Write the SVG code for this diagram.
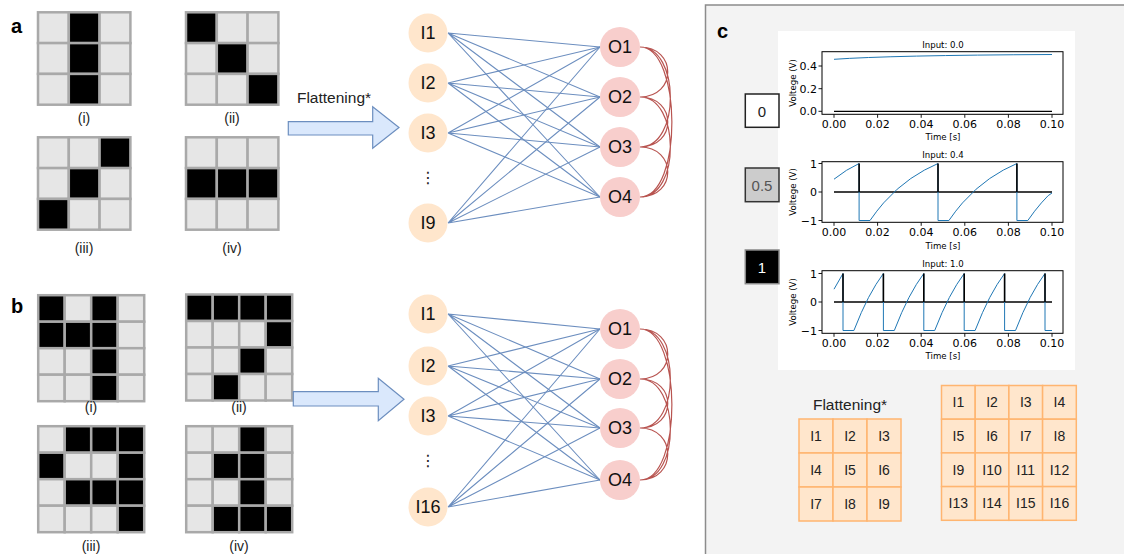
<svg xmlns="http://www.w3.org/2000/svg" width="1124" height="554" viewBox="0 0 1124 554">
<defs>
<style>
.lbl{font-family:"Liberation Sans",Arial,sans-serif;font-weight:bold;font-size:20px;fill:#000}
.cap{font-family:"Liberation Sans",Arial,sans-serif;font-size:14px;fill:#222;text-anchor:middle}
.c{fill:#e6e6e6;stroke:#a9a9a9;stroke-width:2.5}
.k{fill:#000;stroke:#a9a9a9;stroke-width:2.5}
.arrow{fill:#dae8fc;stroke:#6c8ebf;stroke-width:1.2}
.ftxt{font-family:"Liberation Sans",Arial,sans-serif;font-size:15.5px;fill:#222;text-anchor:middle}
.in{fill:#ffe6cc}
.out{fill:#f8cecc}
.nt{font-family:"Liberation Sans",Arial,sans-serif;font-size:18px;fill:#111;text-anchor:middle;dominant-baseline:central}
.edge{stroke:#6c8ebf;stroke-width:1.1;fill:none}
.inh{stroke:#b85450;stroke-width:1.2;fill:none}
.ax{fill:none;stroke:#000;stroke-width:1}
.tk{stroke:#000;stroke-width:0.9}
.tl{font-family:"DejaVu Sans",sans-serif;font-size:11px;fill:#000}
.sm{font-family:"DejaVu Sans",sans-serif;font-size:8.6px;fill:#000;text-anchor:middle}
.blue{fill:none;stroke:#1f77b4;stroke-width:1}
.zero{stroke:#000;stroke-width:1.3}
.spk{stroke:#000;stroke-width:1.6}
.oc{fill:#ffe6cc;stroke:#ffb570;stroke-width:1.5}
.ot{font-family:"Liberation Sans",Arial,sans-serif;font-size:14px;fill:#222;text-anchor:middle;dominant-baseline:central}
</style>
</defs>
<rect width="1124" height="554" fill="#fff"/>

<!-- Panel c background -->
<rect x="705.5" y="5" width="420" height="551" fill="#f3f3f3" stroke="#8c8c8c" stroke-width="1.5"/>

<!-- Panel labels -->
<text class="lbl" x="11" y="33">a</text>
<text class="lbl" x="11" y="313">b</text>
<text class="lbl" x="717" y="38">c</text>

<!-- Panel a grids -->
<g id="a-i" transform="translate(38,12.3)">
<rect class="c" x="0" y="0" width="30.8" height="30.8"/><rect class="k" x="30.8" y="0" width="30.8" height="30.8"/><rect class="c" x="61.6" y="0" width="30.8" height="30.8"/>
<rect class="c" x="0" y="30.8" width="30.8" height="30.8"/><rect class="k" x="30.8" y="30.8" width="30.8" height="30.8"/><rect class="c" x="61.6" y="30.8" width="30.8" height="30.8"/>
<rect class="c" x="0" y="61.6" width="30.8" height="30.8"/><rect class="k" x="30.8" y="61.6" width="30.8" height="30.8"/><rect class="c" x="61.6" y="61.6" width="30.8" height="30.8"/>
</g>
<g id="a-ii" transform="translate(186,12.3)">
<rect class="k" x="0" y="0" width="30.8" height="30.8"/><rect class="c" x="30.8" y="0" width="30.8" height="30.8"/><rect class="c" x="61.6" y="0" width="30.8" height="30.8"/>
<rect class="c" x="0" y="30.8" width="30.8" height="30.8"/><rect class="k" x="30.8" y="30.8" width="30.8" height="30.8"/><rect class="c" x="61.6" y="30.8" width="30.8" height="30.8"/>
<rect class="c" x="0" y="61.6" width="30.8" height="30.8"/><rect class="c" x="30.8" y="61.6" width="30.8" height="30.8"/><rect class="k" x="61.6" y="61.6" width="30.8" height="30.8"/>
</g>
<g id="a-iii" transform="translate(38,137.3)">
<rect class="c" x="0" y="0" width="30.8" height="30.8"/><rect class="c" x="30.8" y="0" width="30.8" height="30.8"/><rect class="k" x="61.6" y="0" width="30.8" height="30.8"/>
<rect class="c" x="0" y="30.8" width="30.8" height="30.8"/><rect class="k" x="30.8" y="30.8" width="30.8" height="30.8"/><rect class="c" x="61.6" y="30.8" width="30.8" height="30.8"/>
<rect class="k" x="0" y="61.6" width="30.8" height="30.8"/><rect class="c" x="30.8" y="61.6" width="30.8" height="30.8"/><rect class="c" x="61.6" y="61.6" width="30.8" height="30.8"/>
</g>
<g id="a-iv" transform="translate(186,137.3)">
<rect class="c" x="0" y="0" width="30.8" height="30.8"/><rect class="c" x="30.8" y="0" width="30.8" height="30.8"/><rect class="c" x="61.6" y="0" width="30.8" height="30.8"/>
<rect class="k" x="0" y="30.8" width="30.8" height="30.8"/><rect class="k" x="30.8" y="30.8" width="30.8" height="30.8"/><rect class="k" x="61.6" y="30.8" width="30.8" height="30.8"/>
<rect class="c" x="0" y="61.6" width="30.8" height="30.8"/><rect class="c" x="30.8" y="61.6" width="30.8" height="30.8"/><rect class="c" x="61.6" y="61.6" width="30.8" height="30.8"/>
</g>
<text class="cap" x="84" y="123">(i)</text>
<text class="cap" x="232" y="123">(ii)</text>
<text class="cap" x="84" y="253">(iii)</text>
<text class="cap" x="232" y="253">(iv)</text>

<!-- Panel b grids -->
<g id="b-i" transform="translate(38.2,295.2)">
<rect class="k" x="0" y="0" width="26.5" height="26.5"/><rect class="c" x="26.5" y="0" width="26.5" height="26.5"/><rect class="k" x="53" y="0" width="26.5" height="26.5"/><rect class="c" x="79.5" y="0" width="26.5" height="26.5"/>
<rect class="k" x="0" y="26.5" width="26.5" height="26.5"/><rect class="k" x="26.5" y="26.5" width="26.5" height="26.5"/><rect class="k" x="53" y="26.5" width="26.5" height="26.5"/><rect class="c" x="79.5" y="26.5" width="26.5" height="26.5"/>
<rect class="c" x="0" y="53" width="26.5" height="26.5"/><rect class="c" x="26.5" y="53" width="26.5" height="26.5"/><rect class="k" x="53" y="53" width="26.5" height="26.5"/><rect class="c" x="79.5" y="53" width="26.5" height="26.5"/>
<rect class="c" x="0" y="79.5" width="26.5" height="26.5"/><rect class="c" x="26.5" y="79.5" width="26.5" height="26.5"/><rect class="k" x="53" y="79.5" width="26.5" height="26.5"/><rect class="c" x="79.5" y="79.5" width="26.5" height="26.5"/>
</g>
<g id="b-ii" transform="translate(186.2,294.5)">
<rect class="k" x="0" y="0" width="26.5" height="26.5"/><rect class="k" x="26.5" y="0" width="26.5" height="26.5"/><rect class="k" x="53" y="0" width="26.5" height="26.5"/><rect class="k" x="79.5" y="0" width="26.5" height="26.5"/>
<rect class="c" x="0" y="26.5" width="26.5" height="26.5"/><rect class="c" x="26.5" y="26.5" width="26.5" height="26.5"/><rect class="c" x="53" y="26.5" width="26.5" height="26.5"/><rect class="k" x="79.5" y="26.5" width="26.5" height="26.5"/>
<rect class="c" x="0" y="53" width="26.5" height="26.5"/><rect class="c" x="26.5" y="53" width="26.5" height="26.5"/><rect class="k" x="53" y="53" width="26.5" height="26.5"/><rect class="c" x="79.5" y="53" width="26.5" height="26.5"/>
<rect class="c" x="0" y="79.5" width="26.5" height="26.5"/><rect class="k" x="26.5" y="79.5" width="26.5" height="26.5"/><rect class="c" x="53" y="79.5" width="26.5" height="26.5"/><rect class="c" x="79.5" y="79.5" width="26.5" height="26.5"/>
</g>
<g id="b-iii" transform="translate(38.2,426.2)">
<rect class="c" x="0" y="0" width="26.5" height="26.5"/><rect class="k" x="26.5" y="0" width="26.5" height="26.5"/><rect class="k" x="53" y="0" width="26.5" height="26.5"/><rect class="k" x="79.5" y="0" width="26.5" height="26.5"/>
<rect class="k" x="0" y="26.5" width="26.5" height="26.5"/><rect class="c" x="26.5" y="26.5" width="26.5" height="26.5"/><rect class="c" x="53" y="26.5" width="26.5" height="26.5"/><rect class="k" x="79.5" y="26.5" width="26.5" height="26.5"/>
<rect class="c" x="0" y="53" width="26.5" height="26.5"/><rect class="k" x="26.5" y="53" width="26.5" height="26.5"/><rect class="k" x="53" y="53" width="26.5" height="26.5"/><rect class="k" x="79.5" y="53" width="26.5" height="26.5"/>
<rect class="c" x="0" y="79.5" width="26.5" height="26.5"/><rect class="c" x="26.5" y="79.5" width="26.5" height="26.5"/><rect class="c" x="53" y="79.5" width="26.5" height="26.5"/><rect class="k" x="79.5" y="79.5" width="26.5" height="26.5"/>
</g>
<g id="b-iv" transform="translate(186.2,426.2)">
<rect class="c" x="0" y="0" width="26.5" height="26.5"/><rect class="c" x="26.5" y="0" width="26.5" height="26.5"/><rect class="k" x="53" y="0" width="26.5" height="26.5"/><rect class="c" x="79.5" y="0" width="26.5" height="26.5"/>
<rect class="c" x="0" y="26.5" width="26.5" height="26.5"/><rect class="k" x="26.5" y="26.5" width="26.5" height="26.5"/><rect class="k" x="53" y="26.5" width="26.5" height="26.5"/><rect class="c" x="79.5" y="26.5" width="26.5" height="26.5"/>
<rect class="c" x="0" y="53" width="26.5" height="26.5"/><rect class="c" x="26.5" y="53" width="26.5" height="26.5"/><rect class="k" x="53" y="53" width="26.5" height="26.5"/><rect class="c" x="79.5" y="53" width="26.5" height="26.5"/>
<rect class="c" x="0" y="79.5" width="26.5" height="26.5"/><rect class="k" x="26.5" y="79.5" width="26.5" height="26.5"/><rect class="k" x="53" y="79.5" width="26.5" height="26.5"/><rect class="k" x="79.5" y="79.5" width="26.5" height="26.5"/>
</g>
<text class="cap" x="91" y="412">(i)</text>
<text class="cap" x="239" y="412">(ii)</text>
<text class="cap" x="91" y="551">(iii)</text>
<text class="cap" x="239" y="551">(iv)</text>

<!-- Arrows -->
<g id="arrow-a">
<text class="ftxt" x="334" y="103">Flattening*</text>
<polygon class="arrow" points="288.3,121.7 372.7,121.7 372.7,106.7 399,127.5 372.7,148.3 372.7,135 288.3,135"/>
</g>
<g id="arrow-b">
<polygon class="arrow" points="293.3,391.7 378.3,391.7 378.3,378.3 404,399.3 378.3,420.7 378.3,406 293.3,406"/>
</g>

<!-- Connectors -->
<g id="connectors">
<g id="edges-a">
<path class="edge" d="M448,33L600,47M448,33L600,97M448,33L600,147M448,33L600,197"/>
<path class="edge" d="M448,83L600,47M448,83L600,97M448,83L600,147M448,83L600,197"/>
<path class="edge" d="M448,133L600,47M448,133L600,97M448,133L600,147M448,133L600,197"/>
<path class="edge" d="M448,223L600,47M448,223L600,97M448,223L600,147M448,223L600,197"/>
<path class="inh" d="M640,47C677,47 677,97 640,97M640,47C680,47 681,147 640,147M640,47C682,47 683,197 640,197M640,97C677,97 677,147 640,147M640,97C680,97 681,197 640,197M640,147C677,147 677,197 640,197"/>
</g>
<g id="edges-b">
<path class="edge" d="M448,314L600,329M448,314L600,379M448,314L600,428M448,314L600,480"/>
<path class="edge" d="M448,366L600,329M448,366L600,379M448,366L600,428M448,366L600,480"/>
<path class="edge" d="M448,416L600,329M448,416L600,379M448,416L600,428M448,416L600,480"/>
<path class="edge" d="M448,507L600,329M448,507L600,379M448,507L600,428M448,507L600,480"/>
<path class="inh" d="M640,329C677,329 677,379 640,379M640,329C680,329 681,428 640,428M640,329C682,329 683,480 640,480M640,379C677,379 677,428 640,428M640,379C680,379 681,480 640,480M640,428C677,428 677,480 640,480"/>
</g>
</g>

<!-- Network a nodes -->
<g id="a-I1"><circle class="in" cx="428" cy="33" r="19.5"/><text class="nt" x="428" y="33">I1</text></g>
<g id="a-I2"><circle class="in" cx="428" cy="83" r="19.5"/><text class="nt" x="428" y="83">I2</text></g>
<g id="a-I3"><circle class="in" cx="428" cy="133" r="19.5"/><text class="nt" x="428" y="133">I3</text></g>
<text x="428" y="183" font-family="DejaVu Sans,sans-serif" font-size="16" fill="#222" text-anchor="middle">⋮</text>
<g id="a-I9"><circle class="in" cx="428" cy="223" r="19.5"/><text class="nt" x="428" y="223">I9</text></g>
<g id="a-O1"><circle class="out" cx="620" cy="47" r="20"/><text class="nt" x="620" y="47">O1</text></g>
<g id="a-O2"><circle class="out" cx="620" cy="97" r="20"/><text class="nt" x="620" y="97">O2</text></g>
<g id="a-O3"><circle class="out" cx="620" cy="147" r="20"/><text class="nt" x="620" y="147">O3</text></g>
<g id="a-O4"><circle class="out" cx="620" cy="197" r="20"/><text class="nt" x="620" y="197">O4</text></g>

<!-- Network b nodes -->
<g id="b-I1"><circle class="in" cx="428" cy="314" r="19.5"/><text class="nt" x="428" y="314">I1</text></g>
<g id="b-I2"><circle class="in" cx="428" cy="366" r="19.5"/><text class="nt" x="428" y="366">I2</text></g>
<g id="b-I3"><circle class="in" cx="428" cy="416" r="19.5"/><text class="nt" x="428" y="416">I3</text></g>
<text x="428" y="466" font-family="DejaVu Sans,sans-serif" font-size="16" fill="#222" text-anchor="middle">⋮</text>
<g id="b-I16"><circle class="in" cx="428" cy="507" r="19.5"/><text class="nt" x="428" y="507">I16</text></g>
<g id="b-O1"><circle class="out" cx="620" cy="329" r="20"/><text class="nt" x="620" y="329">O1</text></g>
<g id="b-O2"><circle class="out" cx="620" cy="379" r="20"/><text class="nt" x="620" y="379">O2</text></g>
<g id="b-O3"><circle class="out" cx="620" cy="428" r="20"/><text class="nt" x="620" y="428">O3</text></g>
<g id="b-O4"><circle class="out" cx="620" cy="480" r="20"/><text class="nt" x="620" y="480">O4</text></g>

<!-- Panel c plots -->
<rect x="778" y="31" width="297" height="339" fill="#fff"/>

<!-- Input boxes -->
<g id="in-0"><rect x="745.3" y="94" width="33.7" height="33.3" fill="#fff" stroke="#222" stroke-width="1.5"/><text x="762" y="111" font-family="Liberation Sans,Arial,sans-serif" font-size="15" fill="#222" text-anchor="middle" dominant-baseline="central">0</text></g>
<g id="in-05"><rect x="745.3" y="168" width="33.7" height="33.7" fill="#cccccc" stroke="#333" stroke-width="1.5"/><text x="762" y="185" font-family="Liberation Sans,Arial,sans-serif" font-size="15" fill="#555" text-anchor="middle" dominant-baseline="central">0.5</text></g>
<g id="in-1"><rect x="745.3" y="250" width="33.7" height="33.7" fill="#000" stroke="#888" stroke-width="1.5"/><text x="762" y="267" font-family="Liberation Sans,Arial,sans-serif" font-size="15" fill="#fff" text-anchor="middle" dominant-baseline="central">1</text></g>

<!-- Plot 1 -->
<g id="plot1">
<text class="sm" x="943" y="48">Input: 0.0</text>
<line class="zero" x1="834" y1="111.3" x2="1052" y2="111.3"/>
<path class="blue" d="M834,59.3 Q890,55.3 1052,54.5"/>
<rect class="ax" x="822" y="51.7" width="241" height="62.6"/>
<path class="tk" d="M818.5,66H822M818.5,88.7H822M818.5,111.3H822M834,114.3V117.8M877.6,114.3V117.8M921.2,114.3V117.8M964.8,114.3V117.8M1008.4,114.3V117.8M1052,114.3V117.8"/>
<text class="tl" text-anchor="end" x="817" y="70">0.4</text>
<text class="tl" text-anchor="end" x="817" y="92.7">0.2</text>
<text class="tl" text-anchor="end" x="817" y="115.3">0.0</text>
<g class="tl" text-anchor="middle"><text x="834" y="127.5">0.00</text><text x="877.6" y="127.5">0.02</text><text x="921.2" y="127.5">0.04</text><text x="964.8" y="127.5">0.06</text><text x="1008.4" y="127.5">0.08</text><text x="1052" y="127.5">0.10</text></g>
<text class="sm" x="943" y="139.5" font-size="9">Time [s]</text>
<text class="sm" font-size="9" transform="translate(796,83) rotate(-90)">Voltege (V)</text>
</g>

<!-- Plot 2 -->
<g id="plot2">
<text class="sm" x="943" y="158">Input: 0.4</text>
<line class="zero" x1="834" y1="192" x2="1052" y2="192"/>
<path class="blue" d="M834,179.2 L846.5,170.3 L859.1,163.5 L859.1,220.5 L870,220.5 L876.8,211.2 L883.6,202.9 L897.2,189.2 L910.8,178.5 L924.4,170.1 L938,163.5 L938,220.5 L948.9,220.5 L955.7,211.2 L962.5,202.9 L976.1,189.2 L989.7,178.5 L1003.3,170.1 L1016.9,163.5 L1016.9,220.5 L1027.8,220.5 L1034.6,211.2 L1041.4,202.9 L1048.2,195.6 L1052,193"/>
<path class="spk" d="M859.1,192V163.5M938,192V163.5M1016.9,192V163.5"/>
<rect class="ax" x="822" y="161.7" width="241" height="60.6"/>
<path class="tk" d="M818.5,163.5H822M818.5,192H822M818.5,220.5H822M834,222.3V225.8M877.6,222.3V225.8M921.2,222.3V225.8M964.8,222.3V225.8M1008.4,222.3V225.8M1052,222.3V225.8"/>
<text class="tl" text-anchor="end" x="817" y="167.5">1</text>
<text class="tl" text-anchor="end" x="817" y="196">0</text>
<text class="tl" text-anchor="end" x="817" y="224.5">−1</text>
<g class="tl" text-anchor="middle"><text x="834" y="236">0.00</text><text x="877.6" y="236">0.02</text><text x="921.2" y="236">0.04</text><text x="964.8" y="236">0.06</text><text x="1008.4" y="236">0.08</text><text x="1052" y="236">0.10</text></g>
<text class="sm" x="943" y="248.5" font-size="9">Time [s]</text>
<text class="sm" font-size="9" transform="translate(796,192) rotate(-90)">Voltege (V)</text>
</g>

<!-- Plot 3 -->
<g id="plot3">
<text class="sm" x="943" y="267">Input: 1.0</text>
<line class="zero" x1="834" y1="302" x2="1052" y2="302"/>
<path class="blue" d="M834,289.2 L843,273.5 L843,330.5 L853.9,330.5 L861.3,312.6 L868.6,297.4 L876,284.4 L883.4,273.5 L883.4,330.5 L894.3,330.5 L901.7,312.6 L909,297.4 L916.4,284.4 L923.8,273.5 L923.8,330.5 L934.7,330.5 L942.1,312.6 L949.4,297.4 L956.8,284.4 L964.2,273.5 L964.2,330.5 L975.1,330.5 L982.5,312.6 L989.8,297.4 L997.2,284.4 L1004.6,273.5 L1004.6,330.5 L1015.5,330.5 L1022.9,312.6 L1030.2,297.4 L1037.6,284.4 L1045,273.5 L1045,330.5 L1052,330.5"/>
<path class="spk" d="M843,302V273.5M883.4,302V273.5M923.8,302V273.5M964.2,302V273.5M1004.6,302V273.5M1045,302V273.5"/>
<rect class="ax" x="822" y="270.7" width="241" height="62.6"/>
<path class="tk" d="M818.5,273.5H822M818.5,302H822M818.5,330.5H822M834,333.3V336.8M877.6,333.3V336.8M921.2,333.3V336.8M964.8,333.3V336.8M1008.4,333.3V336.8M1052,333.3V336.8"/>
<text class="tl" text-anchor="end" x="817" y="277.5">1</text>
<text class="tl" text-anchor="end" x="817" y="306">0</text>
<text class="tl" text-anchor="end" x="817" y="334.5">−1</text>
<g class="tl" text-anchor="middle"><text x="834" y="346.5">0.00</text><text x="877.6" y="346.5">0.02</text><text x="921.2" y="346.5">0.04</text><text x="964.8" y="346.5">0.06</text><text x="1008.4" y="346.5">0.08</text><text x="1052" y="346.5">0.10</text></g>
<text class="sm" x="943" y="358.5" font-size="9">Time [s]</text>
<text class="sm" font-size="9" transform="translate(796,302) rotate(-90)">Voltege (V)</text>
</g>

<!-- Panel c flattening grids -->
<text class="ftxt" x="850" y="410">Flattening*</text>
<g id="c-grid3" transform="translate(799,419)">
<rect class="oc" x="0" y="0" width="34" height="34"/><rect class="oc" x="34" y="0" width="34" height="34"/><rect class="oc" x="68" y="0" width="34" height="34"/>
<rect class="oc" x="0" y="34" width="34" height="34"/><rect class="oc" x="34" y="34" width="34" height="34"/><rect class="oc" x="68" y="34" width="34" height="34"/>
<rect class="oc" x="0" y="68" width="34" height="34"/><rect class="oc" x="34" y="68" width="34" height="34"/><rect class="oc" x="68" y="68" width="34" height="34"/>
<text class="ot" x="17" y="17">I1</text><text class="ot" x="51" y="17">I2</text><text class="ot" x="85" y="17">I3</text>
<text class="ot" x="17" y="51">I4</text><text class="ot" x="51" y="51">I5</text><text class="ot" x="85" y="51">I6</text>
<text class="ot" x="17" y="85">I7</text><text class="ot" x="51" y="85">I8</text><text class="ot" x="85" y="85">I9</text>
</g>
<g id="c-grid4" transform="translate(941.5,385.5)">
<rect class="oc" x="0" y="0" width="33.7" height="33.7"/><rect class="oc" x="33.7" y="0" width="33.7" height="33.7"/><rect class="oc" x="67.4" y="0" width="33.7" height="33.7"/><rect class="oc" x="101.1" y="0" width="33.7" height="33.7"/>
<rect class="oc" x="0" y="33.7" width="33.7" height="33.7"/><rect class="oc" x="33.7" y="33.7" width="33.7" height="33.7"/><rect class="oc" x="67.4" y="33.7" width="33.7" height="33.7"/><rect class="oc" x="101.1" y="33.7" width="33.7" height="33.7"/>
<rect class="oc" x="0" y="67.4" width="33.7" height="33.7"/><rect class="oc" x="33.7" y="67.4" width="33.7" height="33.7"/><rect class="oc" x="67.4" y="67.4" width="33.7" height="33.7"/><rect class="oc" x="101.1" y="67.4" width="33.7" height="33.7"/>
<rect class="oc" x="0" y="101.1" width="33.7" height="33.7"/><rect class="oc" x="33.7" y="101.1" width="33.7" height="33.7"/><rect class="oc" x="67.4" y="101.1" width="33.7" height="33.7"/><rect class="oc" x="101.1" y="101.1" width="33.7" height="33.7"/>
<text class="ot" x="16.85" y="16.85">I1</text><text class="ot" x="50.55" y="16.85">I2</text><text class="ot" x="84.25" y="16.85">I3</text><text class="ot" x="117.95" y="16.85">I4</text>
<text class="ot" x="16.85" y="50.55">I5</text><text class="ot" x="50.55" y="50.55">I6</text><text class="ot" x="84.25" y="50.55">I7</text><text class="ot" x="117.95" y="50.55">I8</text>
<text class="ot" x="16.85" y="84.25">I9</text><text class="ot" x="50.55" y="84.25">I10</text><text class="ot" x="84.25" y="84.25">I11</text><text class="ot" x="117.95" y="84.25">I12</text>
<text class="ot" x="16.85" y="117.95">I13</text><text class="ot" x="50.55" y="117.95">I14</text><text class="ot" x="84.25" y="117.95">I15</text><text class="ot" x="117.95" y="117.95">I16</text>
</g>
</svg>
